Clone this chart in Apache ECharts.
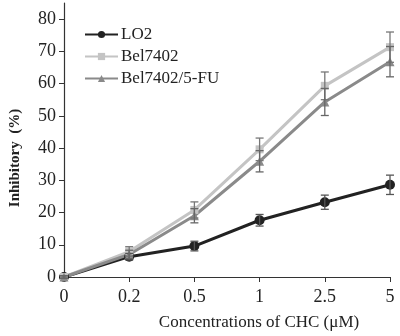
<!DOCTYPE html>
<html>
<head>
<meta charset="utf-8">
<script src="https://cdn.jsdelivr.net/npm/echarts@6/dist/echarts.min.js"></script>
<style>
  html, body { margin: 0; padding: 0; background: #fff; }
  #chart { width: 400px; height: 336px; }
</style>
</head>
<body>
<div id="chart"></div>
<script>
var categories = ["0", "0.2", "0.5", "1", "2.5", "5"];
var yTicks = [0, 10, 20, 30, 40, 50, 60, 70, 80];

var lo2 = [0, 6.3, 9.6, 17.6, 23.2, 28.6];
var lo2Err = [0.4, 1.0, 1.5, 1.8, 2.2, 3.0];

var bel = [0, 7.9, 20.8, 39.6, 59.3, 71.3];
var belErr = [0.4, 1.5, 2.5, 3.5, 4.3, 4.7];

var belFu = [0, 7.0, 19.0, 35.9, 54.3, 66.8];
var belFuErr = [0.4, 1.3, 2.2, 3.3, 4.2, 4.7];

var font = "Liberation Serif";

function errData(vals, errs) {
  var out = [];
  for (var i = 0; i < vals.length; i++) {
    out.push([i, vals[i] - errs[i], vals[i] + errs[i]]);
  }
  return out;
}

function errSeries(vals, errs, color) {
  return {
    type: "custom",
    silent: true,
    z: 5,
    data: errData(vals, errs),
    renderItem: function (params, api) {
      var lo = api.coord([api.value(0), api.value(1)]);
      var hi = api.coord([api.value(0), api.value(2)]);
      var w = 4;
      var style = { stroke: color, lineWidth: 1.3 };
      return {
        type: "group",
        children: [
          { type: "line", shape: { x1: lo[0], y1: lo[1], x2: hi[0], y2: hi[1] }, style: style },
          { type: "line", shape: { x1: lo[0] - w, y1: lo[1], x2: lo[0] + w, y2: lo[1] }, style: style },
          { type: "line", shape: { x1: hi[0] - w, y1: hi[1], x2: hi[0] + w, y2: hi[1] }, style: style }
        ]
      };
    }
  };
}

function lineSeries(name, vals, color, symbol, size) {
  return {
    name: name,
    type: "line",
    data: vals,
    symbol: symbol,
    symbolSize: size,
    z: 3,
    lineStyle: { color: color, width: 3 },
    itemStyle: { color: color },
    emphasis: { disabled: true }
  };
}

var chartDom = document.getElementById("chart");
var myChart = echarts.init(chartDom, null, { renderer: "canvas" });
var option;

option = {
  animation: false,
  backgroundColor: "#fff",
  textStyle: { fontFamily: font },
  grid: { left: 58, right: 10, top: 3, bottom: 56 },
  legend: {
    left: 79,
    top: 21,
    orient: "vertical",
    itemGap: 5,
    itemWidth: 33,
    itemHeight: 9,
    textStyle: { fontFamily: font, fontSize: 17, color: "#222", padding: [0, 0, 0, -2] },
    data: ["LO2", "Bel7402", "Bel7402/5-FU"]
  },
  xAxis: {
    type: "category",
    data: categories,
    boundaryGap: false,
    name: "Concentrations of CHC (\u03bcM)",
    nameLocation: "middle",
    nameGap: 37,
    nameTextStyle: { fontFamily: font, fontSize: 17, color: "#222", padding: [0, 0, 0, 64] },
    axisLine: { lineStyle: { color: "#333", width: 1.2 } },
    axisTick: { alignWithLabel: true, length: 5, lineStyle: { color: "#333" } },
    axisLabel: { fontFamily: font, fontSize: 18, color: "#222", margin: 11 },
    splitLine: { show: false }
  },
  yAxis: {
    type: "value",
    min: 0,
    max: 85,
    name: "Inhibitory  (%)",
    nameLocation: "middle",
    nameGap: 41,
    nameTextStyle: { fontFamily: font, fontSize: 15, fontWeight: "bold", color: "#222", padding: [0, 36, 0, 0] },
    axisLine: { show: true, lineStyle: { color: "#333", width: 1.2 } },
    axisTick: { show: true, length: 5, customValues: yTicks, lineStyle: { color: "#333" } },
    axisLabel: { fontFamily: font, fontSize: 18, color: "#222", margin: 8, customValues: yTicks },
    splitLine: { show: false }
  },
  series: [
    lineSeries("LO2", lo2, "#222", "circle", 10),
    lineSeries("Bel7402", bel, "#c4c4c4", "rect", 8),
    lineSeries("Bel7402/5-FU", belFu, "#8a8a8a", "triangle", 9),
    errSeries(lo2, lo2Err, "#555"),
    errSeries(bel, belErr, "#777"),
    errSeries(belFu, belFuErr, "#666")
  ]
};
option && myChart.setOption(option);
</script>
</body>
</html>
